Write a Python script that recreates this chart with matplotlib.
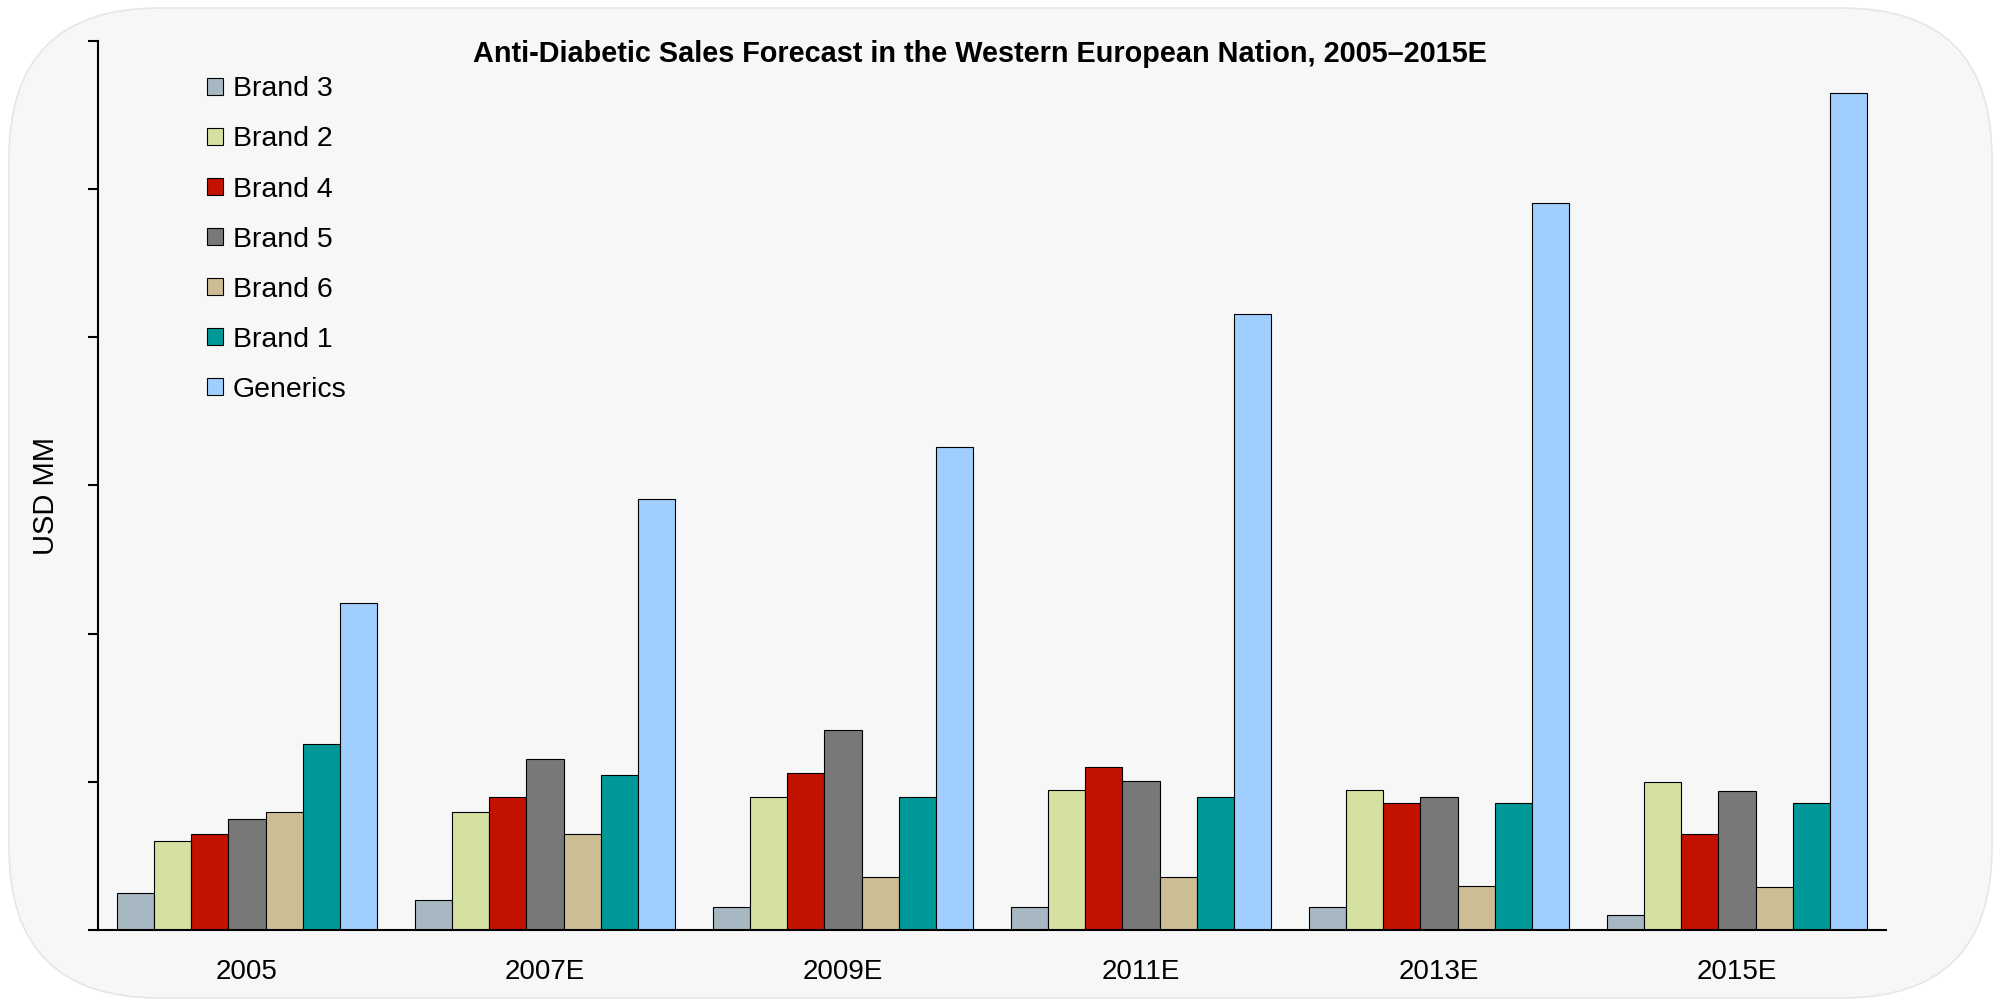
import matplotlib.pyplot as plt
import numpy as np
from matplotlib.patches import FancyBboxPatch

plt.rcParams['font.family'] = ['Liberation Sans', 'DejaVu Sans']

years = ['2005', '2007E', '2009E', '2011E', '2013E', '2015E']
brands = ['Brand 3', 'Brand 2', 'Brand 4', 'Brand 5', 'Brand 6', 'Brand 1', 'Generics']
colors = ['#a7b8c2', '#d5e1a0', '#c41200', '#787878', '#cdbd95', '#009999', '#a0cfff']

# values in tick units (axis has 6 unlabeled ticks)
brand3 = [0.25, 0.205, 0.155, 0.155, 0.155, 0.10]
brand2 = [0.60, 0.794, 0.90, 0.946, 0.946, 1.00]
brand4 = [0.648, 0.90, 1.058, 1.10, 0.86, 0.646]
brand5 = [0.75, 1.152, 1.35, 1.006, 0.90, 0.94]
brand6 = [0.794, 0.648, 0.36, 0.36, 0.30, 0.29]
brand1 = [1.255, 1.046, 0.90, 0.90, 0.86, 0.855]
generics = [2.21, 2.906, 3.26, 4.16, 4.91, 5.65]
series = [brand3, brand2, brand4, brand5, brand6, brand1, generics]

fig = plt.figure(figsize=(19.96, 10), dpi=100)

# rounded light-grey panel behind everything
bg = FancyBboxPatch((0.09, 0.02), 19.83, 9.9,
                    boxstyle='round,pad=0,rounding_size=1.5',
                    transform=fig.dpi_scale_trans, facecolor='#f7f7f7',
                    edgecolor='#e6e6e6', linewidth=1.2, zorder=-5)
fig.patches.append(bg)

ax = fig.add_axes([0.0491, 0.070, 0.8958, 0.889])
ax.set_facecolor('none')
ax.set_zorder(2)

ind = np.arange(len(years))
width = 1 / 8
for j, (vals, name, col) in enumerate(zip(series, brands, colors)):
    ax.bar(ind + (j - 3) * width, vals, width, color=col, edgecolor='black',
           linewidth=0.8, label=name, zorder=2)

ax.set_xlim(-0.5, 5.5)
ax.set_ylim(0, 6)
ax.set_yticks(np.arange(0, 7))
ax.set_yticklabels([])
ax.set_xticks(ind)
ax.set_xticklabels(years, fontsize=20)
ax.tick_params(axis='x', length=0, pad=21)
ax.tick_params(axis='y', length=7, width=1.5, direction='out')
ax.spines['top'].set_visible(False)
ax.spines['right'].set_visible(False)
ax.spines['left'].set_linewidth(1.5)
ax.spines['bottom'].set_linewidth(1.5)
ax.set_ylabel('USD MM', fontsize=21)
ax.yaxis.set_label_coords(-0.0213, 0.488)

leg = ax.legend(loc='upper left', bbox_to_anchor=(0.0466, 0.989), frameon=False,
                fontsize=20.5, handlelength=0.56, handleheight=0.56,
                labelspacing=0.845, handletextpad=0.35)

fig.text(0.491, 0.9465, 'Anti-Diabetic Sales Forecast in the Western European Nation, 2005\u20132015E',
         ha='center', va='center', fontsize=20.8, fontweight='bold', zorder=3)

fig.savefig('out.png', dpi=100)
